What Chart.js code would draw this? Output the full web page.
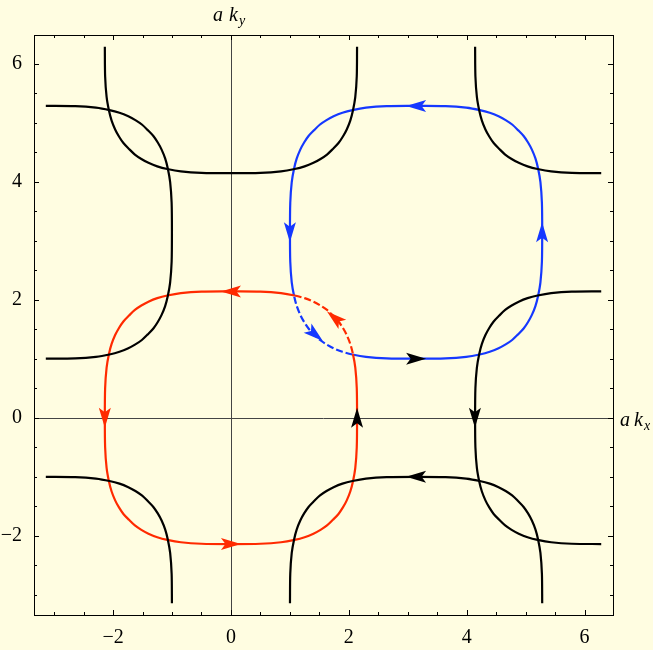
<!DOCTYPE html>
<html>
<head>
<meta charset="utf-8">
<script src="https://cdn.jsdelivr.net/npm/chart.js@4"></script>
<style>
  html, body { margin: 0; padding: 0; background: #FFFDE1; }
  canvas { display: block; }
</style>
</head>
<body>
<canvas id="chart" width="653" height="650"></canvas>
<script>
const PI = Math.PI;

// one quarter of a loop (top -> right), relative to its centre
const arcQuarter = [
  [0, 2.14], [0.5, 2.135], [0.85, 2.11], [1.08, 2.07], [1.25, 2.025], [1.4, 1.965], [1.52, 1.9],
  [1.63, 1.825], [1.73, 1.73], [1.825, 1.63], [1.9, 1.52], [1.965, 1.4], [2.025, 1.25],
  [2.07, 1.08], [2.11, 0.85], [2.135, 0.5], [2.14, 0],
];
// part of the quarter where the red and blue loops overlap (drawn dashed)
const dashRange = [3, 13];

const redCenter = [0, 0];
const blueCenter = [PI, PI];
// black pieces: centre x, centre y, first quarter (0 = top-right, clockwise), number of quarters
const blackPieces = [
  [-PI, PI, 0, 2],
  [0, 2 * PI, 1, 2],
  [2 * PI, 2 * PI, 2, 1],
  [2 * PI, 0, 2, 2],
  [PI, -PI, 3, 2],
  [-PI, -PI, 0, 1],
];

// arrowheads: x, y, direction in degrees
const redArrows = [[0, 2.14, 180], [-2.14, 0, 270], [0, -2.14, 0], [1.76, 1.69, 140]];
const blueArrows = [[PI, 5.28, 180], [1.0, PI, 270], [5.28, PI, 90], [1.43, 1.41, -40]];
const blackArrows = [[2.14, 0, 90], [PI, 1.0, 0], [4.14, 0, 270], [PI, -1.0, 180]];

const majorTicks = [-2, 0, 2, 4, 6];
const minorTicks = [-3, -2.5, -1.5, -1, -0.5, 0.5, 1, 1.5, 2.5, 3, 3.5, 4.5, 5, 5.5];
const axisMin = -3.342;
const axisMax = 6.483;

const RED = '#FF2A00';
const BLUE = '#1538FF';
const BG = '#FFFDE1';

const loopPoints = (cx, cy, first, count) => {
  const pts = [];
  for (let q = 0; q < count; q++) {
    const k = (first + q) % 4;
    arcQuarter.forEach(([u, v], i) => {
      if (q > 0 && i === 0) return;
      let x = u, y = v;
      if (k === 1) { x = v; y = -u; }
      else if (k === 2) { x = -u; y = -v; }
      else if (k === 3) { x = -v; y = u; }
      pts.push({ x: cx + x, y: cy + y, q: k, i });
    });
  }
  return pts;
};

const curve = (pts, color, dashQuarter) => {
  const isDash = (p) => p && p.q === dashQuarter && p.i >= dashRange[0] && p.i <= dashRange[1];
  return {
    data: pts,
    showLine: true,
    borderColor: color,
    borderWidth: 2.2,
    pointRadius: 0,
    tension: 0.3,
    fill: false,
    segment: {
      borderDash: (c) => (isDash(pts[c.p0DataIndex]) && isDash(pts[c.p1DataIndex]) ? [7, 3] : undefined),
    },
  };
};

const datasets = [
  ...blackPieces.map(([cx, cy, f, n]) => curve(loopPoints(cx, cy, f, n), '#000', -1)),
  curve(loopPoints(redCenter[0], redCenter[1], 0, 4), RED, 0),
  curve(loopPoints(blueCenter[0], blueCenter[1], 0, 4), BLUE, 2),
];

const drawArrow = (ctx, xs, ys, [x, y, deg], color) => {
  const px = xs.getPixelForValue(x);
  const py = ys.getPixelForValue(y);
  const r = deg * PI / 180;
  const dx = xs.getPixelForValue(x + Math.cos(r)) - px;
  const dy = ys.getPixelForValue(y + Math.sin(r)) - py;
  const len = Math.hypot(dx, dy);
  const ux = dx / len, uy = dy / len;
  const L = 20, W = 6, notch = 4.5;
  ctx.save();
  ctx.fillStyle = color;
  ctx.beginPath();
  ctx.moveTo(px + ux * L / 2, py + uy * L / 2);
  ctx.lineTo(px - ux * L / 2 - uy * W, py - uy * L / 2 + ux * W);
  ctx.lineTo(px - ux * (L / 2 - notch), py - uy * (L / 2 - notch));
  ctx.lineTo(px - ux * L / 2 + uy * W, py - uy * L / 2 - ux * W);
  ctx.closePath();
  ctx.fill();
  ctx.restore();
};

const framePlugin = {
  id: 'frame',
  beforeDraw(chart) {
    const { ctx, width, height } = chart;
    ctx.save();
    ctx.fillStyle = BG;
    ctx.fillRect(0, 0, width, height);
    ctx.restore();
  },
  beforeDatasetsDraw(chart) {
    const { ctx, chartArea: a, scales: { x: xs, y: ys } } = chart;
    const x0 = Math.round(xs.getPixelForValue(0)) + 0.5;
    const y0 = Math.round(ys.getPixelForValue(0)) + 0.5;
    ctx.save();
    ctx.strokeStyle = '#444';
    ctx.lineWidth = 1;
    ctx.beginPath();
    ctx.moveTo(x0, a.top); ctx.lineTo(x0, a.bottom);
    ctx.moveTo(a.left, y0); ctx.lineTo(a.right, y0);
    ctx.stroke();
    ctx.restore();
  },
  afterDatasetsDraw(chart) {
    const { ctx, chartArea: a, scales: { x: xs, y: ys } } = chart;
    redArrows.forEach((ar) => drawArrow(ctx, xs, ys, ar, RED));
    blueArrows.forEach((ar) => drawArrow(ctx, xs, ys, ar, BLUE));
    blackArrows.forEach((ar) => drawArrow(ctx, xs, ys, ar, '#000'));

    ctx.save();
    ctx.strokeStyle = '#000';
    ctx.lineWidth = 1;
    ctx.strokeRect(Math.round(a.left) + 0.5, Math.round(a.top) + 0.5,
      Math.round(a.right - a.left), Math.round(a.bottom - a.top));
    const tick = (v, size) => {
      const px = Math.round(xs.getPixelForValue(v)) + 0.5;
      const py = Math.round(ys.getPixelForValue(v)) + 0.5;
      ctx.moveTo(px, a.bottom); ctx.lineTo(px, a.bottom - size);
      ctx.moveTo(px, a.top); ctx.lineTo(px, a.top + size);
      ctx.moveTo(a.left, py); ctx.lineTo(a.left + size, py);
      ctx.moveTo(a.right, py); ctx.lineTo(a.right - size, py);
    };
    ctx.beginPath();
    majorTicks.forEach((v) => tick(v, 5));
    minorTicks.forEach((v) => tick(v, 3));
    ctx.stroke();
    ctx.restore();
  },
  afterDraw(chart) {
    const { ctx, scales: { x: xs, y: ys } } = chart;
    const x0 = xs.getPixelForValue(0);
    const y0 = ys.getPixelForValue(0);
    ctx.save();
    ctx.fillStyle = '#000';
    ctx.textBaseline = 'alphabetic';
    ctx.font = 'italic 20px "Liberation Serif"';
    ctx.fillText('a', x0 - 18, 21);
    ctx.fillText('k', x0 - 2, 21);
    ctx.fillText('a', 620, y0 + 8);
    ctx.fillText('k', 634, y0 + 8);
    ctx.font = 'italic 14px "Liberation Serif"';
    ctx.fillText('y', x0 + 8, 25);
    ctx.fillText('x', 644, y0 + 12);
    ctx.restore();
  },
};

const tickLabel = (v) => (v < 0 ? '\u2212' + Math.abs(v) : String(v));

const axisOptions = (isX) => ({
  type: 'linear',
  min: axisMin,
  max: axisMax,
  grid: { display: false },
  border: { display: false },
  afterBuildTicks: (scale) => { scale.ticks = majorTicks.map((v) => ({ value: v })); },
  afterFit: (scale) => {
    if (isX) scale.height = 35;
    else scale.width = 34;
  },
  ticks: {
    color: '#000',
    padding: isX ? 3 : 4,
    font: { family: '"Liberation Serif"', size: 20 },
    callback: tickLabel,
    autoSkip: false,
    maxRotation: 0,
  },
});

new Chart(document.getElementById('chart'), {
  type: 'scatter',
  data: { datasets },
  options: {
    responsive: false,
    devicePixelRatio: 1,
    animation: false,
    layout: { padding: { top: 35, right: 40, left: 0, bottom: 0 } },
    plugins: { legend: { display: false }, tooltip: { enabled: false } },
    scales: { x: axisOptions(true), y: axisOptions(false) },
  },
  plugins: [framePlugin],
});
</script>
</body>
</html>
